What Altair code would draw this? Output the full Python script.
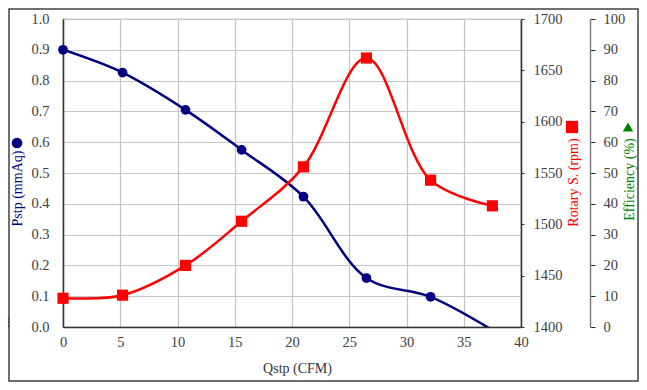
import altair as alt
import pandas as pd

# ---- data ----
q_vals = [0, 5.2, 10.7, 15.6, 21.0, 26.5, 32.1, 37.5]
pstp = [0.900, 0.826, 0.705, 0.575, 0.423, 0.159, 0.098, -0.010]
rpm = [1428, 1431, 1460, 1503, 1556, 1662, 1543, 1518]
q_eff = [-5.0, -5.0, -5.0]
eff = [1.2, 2.4, 3.6]

x_ticks = [0, 5, 10, 15, 20, 25, 30, 35, 40]
p_ticks = [round(i * 0.1, 1) for i in range(11)]
r_ticks = [1400, 1450, 1500, 1550, 1600, 1650, 1700]
e_ticks = list(range(0, 101, 10))

df_p = pd.DataFrame({"q": q_vals, "v": pstp})
df_r = pd.DataFrame({"q": q_vals, "v": rpm})
df_e = pd.DataFrame({"q": q_eff, "v": eff})

FONT = "'Liberation Serif', 'Times New Roman', serif"
NAVY = "#000080"
RED = "#FF0000"
GREEN = "#008000"
LBL = "#404040"
W, H = 458, 308

common = dict(labelFont=FONT, titleFont=FONT, labelFontSize=14.5,
              titleFontSize=14, labelColor=LBL, titleFontWeight="normal",
              labelFlush=False, labelOverlap=False)

x_enc = alt.X(
    "q:Q",
    scale=alt.Scale(domain=[0, 40], nice=False),
    axis=alt.Axis(
        values=x_ticks, format="d", title="Qstp (CFM)", grid=True,
        gridColor="#c4c4c4", gridWidth=1.2, ticks=False, labelPadding=8,
        domainColor="#333333", domainWidth=1.5,
        titleX=234, titleY=41, titleBaseline="middle", titleAlign="center",
        titleColor="#333333", **common,
    ),
)

p_y = alt.Y(
    "v:Q",
    scale=alt.Scale(domain=[0, 1], nice=False),
    axis=alt.Axis(
        values=p_ticks, format=".1f", title="Pstp (mmAq)", orient="left",
        grid=True, gridColor="#c4c4c4", gridWidth=1.2, ticks=False,
        labelPadding=14, domainColor="#333333", domainWidth=1.5,
        titleColor=NAVY, titleX=-46, titleY=169, titleAngle=270,
        titleAlign="center", titleBaseline="middle", **common,
    ),
)
p_line = alt.Chart(df_p).mark_line(
    color=NAVY, strokeWidth=2.5, interpolate="catmull-rom", clip=True
).encode(x=x_enc, y=p_y)
p_pts = alt.Chart(df_p).transform_filter("datum.v >= 0").mark_point(
    shape="circle", filled=True, color=NAVY, size=95, opacity=1
).encode(x=x_enc, y=p_y)
layer_p = alt.layer(p_line, p_pts)

r_y = alt.Y(
    "v:Q",
    scale=alt.Scale(domain=[1400, 1700], nice=False),
    axis=alt.Axis(
        values=r_ticks, format="d", title="Rotary S. (rpm)", orient="right",
        grid=False, tickSize=3, tickColor="#333333", labelPadding=9,
        domainColor="#333333", domainWidth=1.5,
        titleColor=RED, titleX=52, titleY=163, titleAngle=270,
        titleAlign="center", titleBaseline="middle", **common,
    ),
)
r_line = alt.Chart(df_r).mark_line(
    color=RED, strokeWidth=2.5, interpolate="catmull-rom", clip=True
).encode(x=x_enc, y=r_y)
r_pts = alt.Chart(df_r).mark_point(
    shape="square", filled=True, color=RED, size=125, opacity=1
).encode(x=x_enc, y=r_y)
layer_r = alt.layer(r_line, r_pts)

e_y = alt.Y(
    "v:Q",
    scale=alt.Scale(domain=[0, 100], nice=False),
    axis=alt.Axis(
        values=e_ticks, format="d", title="Efficiency (%)", orient="right",
        offset=69, grid=False, tickSize=5, tickColor="#222222",
        labelPadding=8, domainColor="#808080", domainWidth=1.5,
        titleColor=GREEN, titleX=39, titleY=160, titleAngle=270,
        titleAlign="center", titleBaseline="middle", **common,
    ),
)
e_pts = alt.Chart(df_e).mark_point(
    shape="triangle-up", filled=True, color=GREEN, size=70, opacity=1, clip=False
).encode(x=x_enc, y=e_y)

# legend symbols next to the axis titles
sym_df = pd.DataFrame({"k": [0]})
sym_p = alt.Chart(sym_df).mark_point(
    shape="circle", filled=True, color=NAVY, size=115, opacity=1, clip=False
).encode(x=alt.value(-46), y=alt.value(124))
sym_r = alt.Chart(sym_df).mark_point(
    shape="square", filled=True, color=RED, size=150, opacity=1, clip=False
).encode(x=alt.value(509), y=alt.value(108))
sym_e = alt.Chart(sym_df).mark_point(
    shape="triangle-up", filled=True, color=GREEN, size=110, opacity=1, clip=False
).encode(x=alt.value(565), y=alt.value(108))
frame = alt.Chart(sym_df).mark_rect(
    fillOpacity=0, stroke="#404040", strokeWidth=1.5, clip=False
).encode(x=alt.value(-54), x2=alt.value(575), y=alt.value(-10), y2=alt.value(362))

chart = alt.layer(
    layer_p, layer_r, e_pts, sym_p, sym_r, sym_e, frame
).resolve_scale(y="independent").properties(
    width=W, height=H,
    autosize=alt.AutoSizeParams(type="none"),
    padding={"left": 55, "top": 11, "right": 118, "bottom": 55},
    background="white",
).configure_view(
    stroke="#909090", strokeWidth=1.2
)

chart.save("out.html", embed_options={"renderer": "svg", "actions": False})
